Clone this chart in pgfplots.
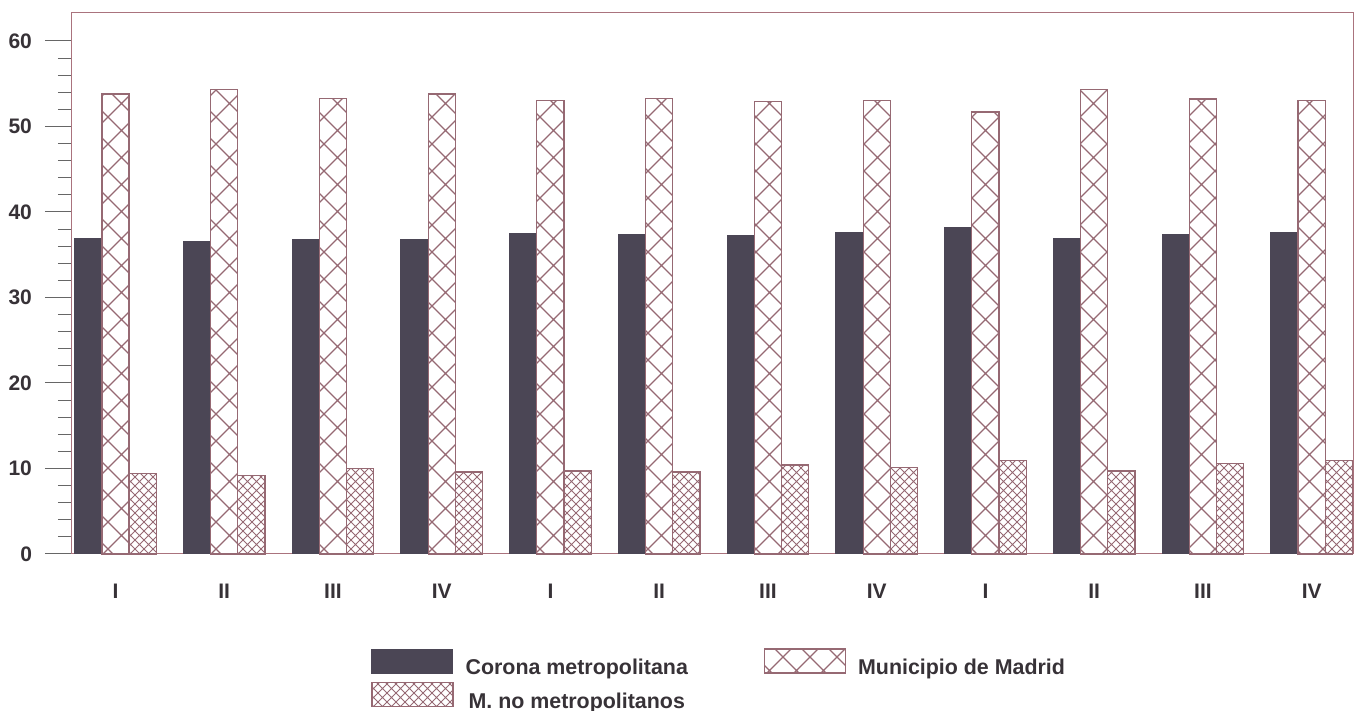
\documentclass[border=0pt]{standalone}
\usepackage{pgfplots}
\pgfplotsset{compat=1.18}
\usepackage{pgfplotstable}
\usepackage{fontspec}
\setmainfont{Liberation Sans}
\usetikzlibrary{patterns}

\definecolor{barline}{RGB}{150,105,115}
\definecolor{darkbar}{RGB}{75,70,85}
\definecolor{frame}{RGB}{170,115,125}
\definecolor{txt}{RGB}{55,50,55}

% large and small crosshatch
\pgfdeclarepatternformonly{bigcross}{\pgfqpoint{-1pt}{-1pt}}{\pgfqpoint{14.5pt}{14.5pt}}{\pgfqpoint{13.5pt}{13.5pt}}{
  \pgfsetlinewidth{0.55pt}
  \pgfpathmoveto{\pgfqpoint{0pt}{0pt}}\pgfpathlineto{\pgfqpoint{13.5pt}{13.5pt}}
  \pgfpathmoveto{\pgfqpoint{0pt}{13.5pt}}\pgfpathlineto{\pgfqpoint{13.5pt}{0pt}}
  \pgfusepath{stroke}}
\pgfdeclarepatternformonly{smallcross}{\pgfqpoint{-1pt}{-1pt}}{\pgfqpoint{5.5pt}{5.5pt}}{\pgfqpoint{4.5pt}{4.5pt}}{
  \pgfsetlinewidth{0.45pt}
  \pgfpathmoveto{\pgfqpoint{0pt}{0pt}}\pgfpathlineto{\pgfqpoint{4.5pt}{4.5pt}}
  \pgfpathmoveto{\pgfqpoint{0pt}{4.5pt}}\pgfpathlineto{\pgfqpoint{4.5pt}{0pt}}
  \pgfusepath{stroke}}

\pgfplotstableread{
x corona madrid resto
0  36.9 53.8 9.4
1  36.6 54.3 9.2
2  36.8 53.3 10.0
3  36.8 53.8 9.6
4  37.5 53.0 9.7
5  37.4 53.3 9.6
6  37.2 52.9 10.4
7  37.6 53.0 10.1
8  38.2 51.7 10.9
9  36.9 54.3 9.7
10 37.4 53.2 10.6
11 37.6 53.0 10.9
}\datos

\begin{document}
\begin{tikzpicture}
\useasboundingbox (-36pt,-78.5pt) rectangle (645pt,277pt);
\begin{axis}[
    scale only axis,
    width=640.5pt, height=270.5pt,
    xmin=-0.40, xmax=11.38,
    ymin=0, ymax=63.27,
    ybar=0pt, bar width=0.25,
    axis line style={draw=frame, line width=0.5pt},
    xtick={0,...,11},
    xticklabels={I,II,III,IV,I,II,III,IV,I,II,III,IV},
    xtick style={draw=none},
    ytick={0,10,...,60},
    minor y tick num=4,
    ytick pos=left,
    tick align=outside,
    major tick length=13.5pt,
    minor tick length=7pt,
    ytick style={draw=gray!80!black, line width=0.5pt},
    minor y tick style={draw=gray!80!black, line width=0.5pt},
    ticklabel style={font=\fontsize{10.5}{12}\selectfont\bfseries, text=txt},
    /pgf/number format/assume math mode=true,
    yticklabel style={xshift=-3pt},
    xticklabel style={yshift=2pt},
    clip=false,
    legend columns=2,
    legend style={at={(axis description cs:0.2334,-0.1738)}, anchor=north west,
      draw=none, fill=none, inner sep=0pt, row sep=0.5pt,
      font=\fontsize{10.7}{12}\selectfont\bfseries, text=txt,
      /tikz/every even column/.append style={column sep=36pt}},
    legend image code/.code={\draw[#1] (0pt,-2.5pt) rectangle (40.5pt,9.5pt);
      \path (44.5pt,0pt);},
]
\addplot[fill=darkbar, draw=darkbar, line width=0.5pt] table[x=x, y=corona] {\datos};
\addplot[pattern=bigcross, pattern color=barline, draw=barline, line width=0.6pt] table[x=x, y=madrid] {\datos};
\addplot[pattern=smallcross, pattern color=barline, draw=barline, line width=0.6pt] table[x=x, y=resto] {\datos};
\legend{Corona metropolitana, Municipio de Madrid, M. no metropolitanos}
\end{axis}
\end{tikzpicture}
\end{document}
